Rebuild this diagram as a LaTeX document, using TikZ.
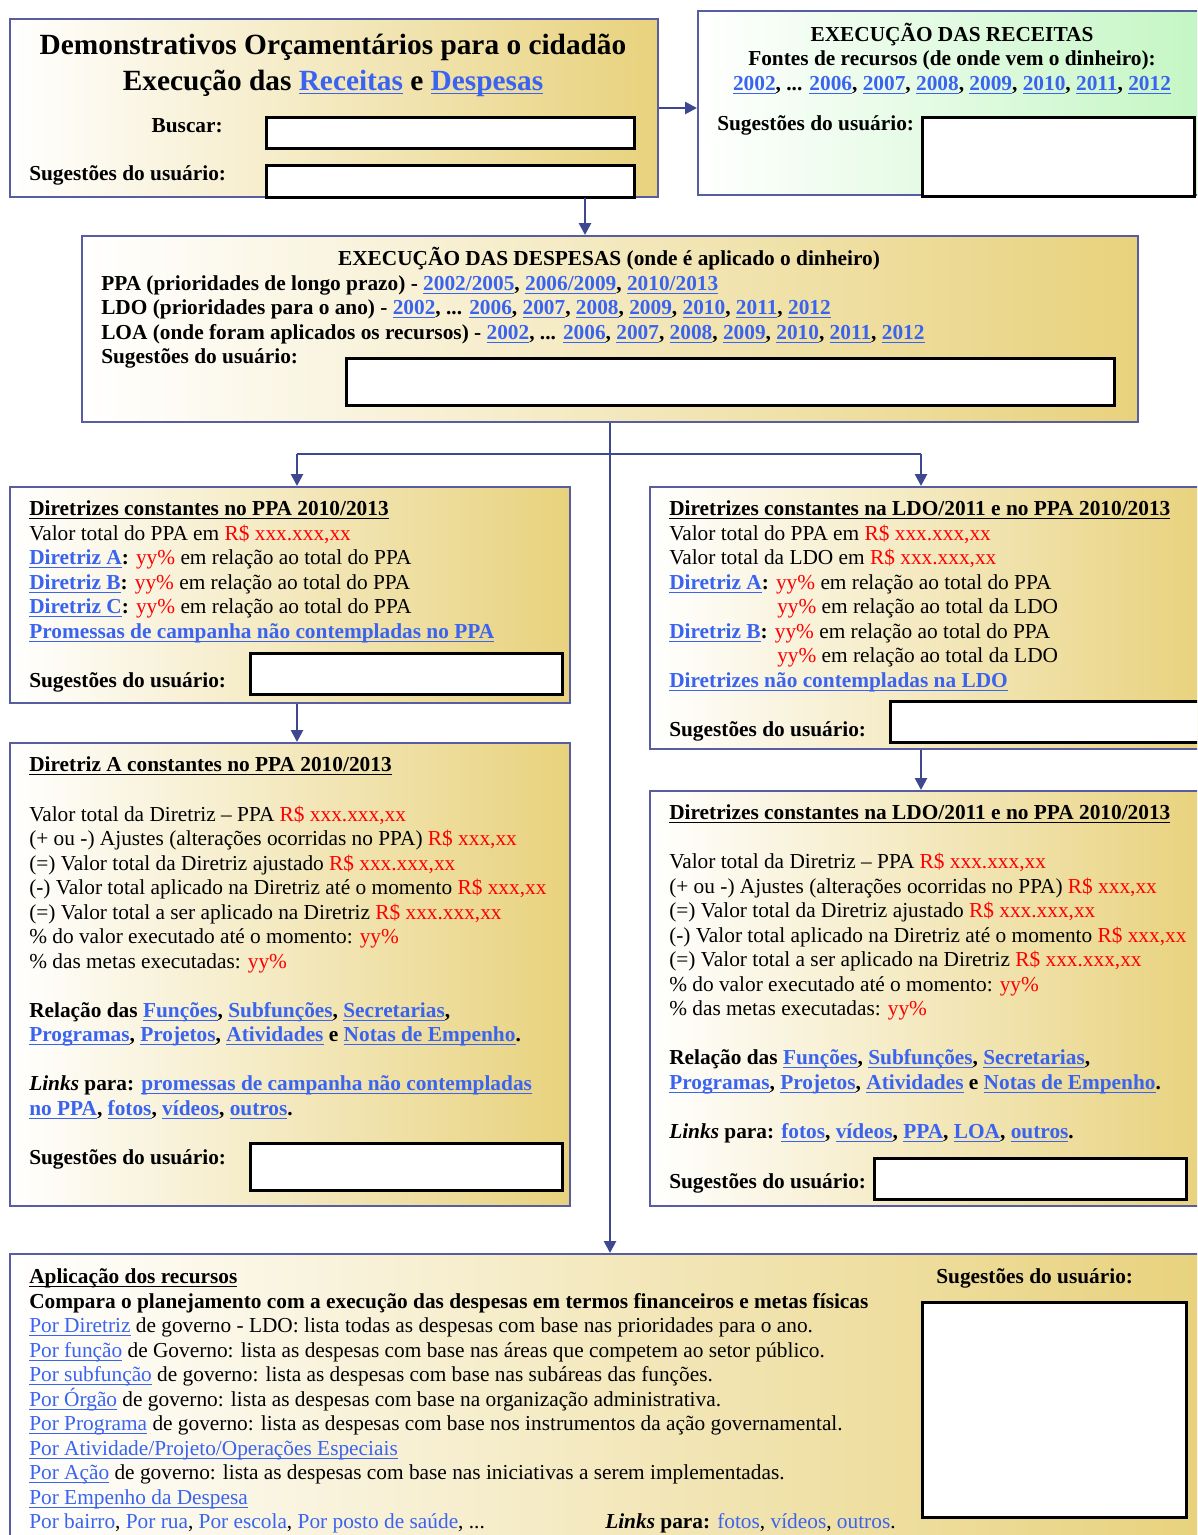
\documentclass[tikz,border=0pt]{standalone}
\usepackage{fontspec}
\setmainfont{Liberation Serif}
\usetikzlibrary{arrows.meta}

\definecolor{framecol}{RGB}{88,92,160}
\definecolor{arrowcol}{RGB}{62,72,145}
\definecolor{goldcol}{RGB}{232,210,125}
\definecolor{greencol}{RGB}{196,246,196}
\definecolor{linkblue}{RGB}{58,100,240}
\definecolor{redval}{RGB}{255,0,0}

% underline at a fixed depth below the baseline, in the current colour
\newlength\ulwd
\newsavebox\ulsave
\newcommand\myul[2][1.3pt]{%
  \sbox\ulsave{#2}\setlength\ulwd{\wd\ulsave}%
  \rlap{\rule[-3.2pt]{\ulwd}{#1}}\usebox\ulsave}

% bold/regular link, underlined
\newcommand\lk[1]{\textcolor{linkblue}{\myul{#1}}}
% link without underline
\newcommand\lkn[1]{\textcolor{linkblue}{#1}}
% regular-weight link with a thin underline
\newcommand\lkt[1]{\textcolor{linkblue}{\myul[0.7pt]{#1}}}
% value placeholders
\newcommand\rd[1]{\textcolor{redval}{#1}}
% underlined heading
\newcommand\hd[1]{\textbf{\myul{#1}}}

\begin{document}
\begin{tikzpicture}[x=0.75pt,y=-0.75pt,
  every node/.style={font=\fontsize{16}{19}\selectfont},
  panel/.style={draw=framecol, line width=1.5pt, left color=white, right color=goldcol,
    anchor=north west, inner sep=0pt},
  greenpanel/.style={panel, right color=greencol},
  field/.style={draw=black, line width=1.9pt, fill=white, anchor=north west, inner sep=0pt},
  txt/.style={anchor=base west, inner sep=0pt},
  ctxt/.style={anchor=base, inner sep=0pt, font=\fontsize{16}{19}\selectfont\bfseries},
  btxt/.style={txt, font=\fontsize{16}{19}\selectfont\bfseries},
  ttl/.style={anchor=base, inner sep=0pt, font=\fontsize{22}{26}\selectfont\bfseries},
  link/.style={draw=arrowcol, line width=2pt},
  arr/.style={link, -{Triangle[length=9pt,width=9pt]}}]

\clip (0,0) rectangle (1197,1535);
\fill[white] (0,0) rectangle (1197,1535);

% ---------- panels ----------
\node[panel, minimum width={648*0.75pt}, minimum height={178*0.75pt}] (b1) at (9,18) {};
\node[greenpanel, minimum width={504*0.75pt}, minimum height={184*0.75pt}] (b2) at (697,10) {};
\node[panel, minimum width={1056*0.75pt}, minimum height={186*0.75pt}] (b3) at (81,235) {};
\node[panel, minimum width={560*0.75pt}, minimum height={216*0.75pt}] (b4) at (9,486) {};
\node[panel, minimum width={554*0.75pt}, minimum height={262*0.75pt}] (b5) at (649,486) {};
\node[panel, minimum width={560*0.75pt}, minimum height={463*0.75pt}] (b6) at (9,742) {};
\node[panel, minimum width={554*0.75pt}, minimum height={415*0.75pt}] (b7) at (649,790) {};
\node[panel, minimum width={1192*0.75pt}, minimum height={290*0.75pt}] (b8) at (9,1253) {};

% ---------- input fields ----------
\node[field, minimum width={368*0.75pt}, minimum height={31*0.75pt}] (f1) at (265,116) {};
\node[field, minimum width={368*0.75pt}, minimum height={32*0.75pt}] (f2) at (265,164) {};
\node[field, minimum width={272*0.75pt}, minimum height={79*0.75pt}] (f3) at (921,116) {};
\node[field, minimum width={768*0.75pt}, minimum height={47*0.75pt}] (f4) at (345,357) {};
\node[field, minimum width={312*0.75pt}, minimum height={41*0.75pt}] (f5) at (249,652) {};
\node[field, minimum width={320*0.75pt}, minimum height={41*0.75pt}] (f6) at (889,700) {};
\node[field, minimum width={312*0.75pt}, minimum height={47*0.75pt}] (f7) at (249,1142) {};
\node[field, minimum width={312*0.75pt}, minimum height={41*0.75pt}] (f8) at (873,1157) {};
\node[field, minimum width={264*0.75pt}, minimum height={215*0.75pt}] (f9) at (921,1301) {};

% ---------- connectors ----------
\coordinate (c13) at (585,0);
\coordinate (jl) at (297,454);
\coordinate (jr) at (921,454);
\coordinate (c46) at (297,0);
\coordinate (c57) at (921,0);
\draw[arr] (b1.east) -- (b1.east -| b2.west);
\draw[arr] (c13 |- b1.south) -- (c13 |- b3.north);
\draw[arr] (b3.south) -- (b8.north -| b3.south);
\draw[link] (jl) -- (jr);
\draw[arr] (jl) -- (jl |- b4.north);
\draw[arr] (jr) -- (jr |- b5.north);
\draw[arr] (c46 |- b4.south) -- (c46 |- b6.north);
\draw[arr] (c57 |- b5.south) -- (c57 |- b7.north);

% ---------- panel 1: title and search ----------
\node[ttl] (t1a) at (333,54) {Demonstrativos Orçamentários para o cidadão};
\node[ttl] (t1b) at (333,90) {Execução das \lk{Receitas} e \lk{Despesas}};
\node[anchor=base east, inner sep=0pt, font=\fontsize{16}{19}\selectfont\bfseries] (t1c) at (223,132) {Buscar:};
\node[btxt] (t1d) at (29,180) {Sugestões do usuário:};

% ---------- panel 2: revenue ----------
\node[ctxt] (t2a) at (952,41) {EXECUÇÃO DAS RECEITAS};
\node[ctxt] (t2b) at (952,65) {Fontes de recursos (de onde vem o dinheiro):};
\node[ctxt] (t2c) at (952,90)
  {\lk{2002}, ... \lk{2006}, \lk{2007}, \lk{2008}, \lk{2009}, \lk{2010}, \lk{2011}, \lk{2012}};
\node[btxt] (t2d) at (717,130) {Sugestões do usuário:};

% ---------- panel 3: expenses ----------
\node[ctxt] (t3a) at (609,265) {EXECUÇÃO DAS DESPESAS (onde é aplicado o dinheiro)};
\node[btxt] (t3b) at (101,290)
  {PPA (prioridades de longo prazo) - \lk{2002/2005}, \lk{2006/2009}, \lk{2010/2013}};
\node[btxt] (t3c) at (101,314)
  {LDO (prioridades para o ano) - \lk{2002}, ... \lk{2006}, \lk{2007}, \lk{2008}, \lk{2009}, \lk{2010}, \lk{2011}, \lk{2012}};
\node[btxt] (t3d) at (101,339)
  {LOA (onde foram aplicados os recursos) - \lk{2002}, ... \lk{2006}, \lk{2007}, \lk{2008}, \lk{2009}, \lk{2010}, \lk{2011}, \lk{2012}};
\node[btxt] (t3e) at (101,363) {Sugestões do usuário:};

% ---------- panel 4: PPA guidelines ----------
\node[txt] (t4a) at (29,515) {\hd{Diretrizes constantes no PPA 2010/2013}};
\node[txt] (t4b) at (29,540) {Valor total do PPA em \rd{R\$ xxx.xxx,xx}};
\node[txt] (t4c) at (29,564) {\textbf{\lk{Diretriz A}:} \rd{yy\%} em relação ao total do PPA};
\node[txt] (t4d) at (29,589) {\textbf{\lk{Diretriz B}:} \rd{yy\%} em relação ao total do PPA};
\node[txt] (t4e) at (29,613) {\textbf{\lk{Diretriz C}:} \rd{yy\%} em relação ao total do PPA};
\node[txt] (t4f) at (29,638) {\textbf{\lk{Promessas de campanha não contempladas no PPA}}};
\node[btxt] (t4g) at (29,687) {Sugestões do usuário:};

% ---------- panel 5: LDO and PPA guidelines ----------
\node[txt] (t5a) at (669,515) {\hd{Diretrizes constantes na LDO/2011 e no PPA 2010/2013}};
\node[txt] (t5b) at (669,540) {Valor total do PPA em \rd{R\$ xxx.xxx,xx}};
\node[txt] (t5c) at (669,564) {Valor total da LDO em \rd{R\$ xxx.xxx,xx}};
\node[txt] (t5d) at (669,589) {\textbf{\lk{Diretriz A}:} \rd{yy\%} em relação ao total do PPA};
\node[txt] (t5e) at (777,613) {\rd{yy\%} em relação ao total da LDO};
\node[txt] (t5f) at (669,638) {\textbf{\lk{Diretriz B}:} \rd{yy\%} em relação ao total do PPA};
\node[txt] (t5g) at (777,662) {\rd{yy\%} em relação ao total da LDO};
\node[txt] (t5h) at (669,687) {\textbf{\lk{Diretrizes não contempladas na LDO}}};
\node[btxt] (t5i) at (669,736) {Sugestões do usuário:};

% ---------- panel 6: guideline A detail ----------
\node[txt] (t6a) at (29,771) {\hd{Diretriz A constantes no PPA 2010/2013}};
\node[txt] (t6b) at (29,821) {Valor total da Diretriz – PPA \rd{R\$ xxx.xxx,xx}};
\node[txt] (t6c) at (29,845) {(+ ou -) Ajustes (alterações ocorridas no PPA) \rd{R\$ xxx,xx}};
\node[txt] (t6d) at (29,870) {(=) Valor total da Diretriz ajustado \rd{R\$ xxx.xxx,xx}};
\node[txt] (t6e) at (29,894) {(-) Valor total aplicado na Diretriz até o momento \rd{R\$ xxx,xx}};
\node[txt] (t6f) at (29,919) {(=) Valor total a ser aplicado na Diretriz \rd{R\$ xxx.xxx,xx}};
\node[txt] (t6g) at (29,943) {\% do valor executado até o momento: \rd{yy\%}};
\node[txt] (t6h) at (29,968) {\% das metas executadas: \rd{yy\%}};
\node[btxt] (t6i) at (29,1017)
  {Relação das \lk{Funções}, \lk{Subfunções}, \lk{Secretarias},};
\node[btxt] (t6j) at (29,1041)
  {\lk{Programas}, \lk{Projetos}, \lk{Atividades} e \lk{Notas de Empenho}.};
\node[btxt] (t6k) at (29,1090)
  {\textit{Links} para: \lk{promessas de campanha não contempladas}};
\node[btxt] (t6l) at (29,1115)
  {\lk{no PPA}, \lk{fotos}, \lk{vídeos}, \lk{outros}.};
\node[btxt] (t6m) at (29,1164) {Sugestões do usuário:};

% ---------- panel 7: LDO guideline detail ----------
\node[txt] (t7a) at (669,819) {\hd{Diretrizes constantes na LDO/2011 e no PPA 2010/2013}};
\node[txt] (t7b) at (669,868) {Valor total da Diretriz – PPA \rd{R\$ xxx.xxx,xx}};
\node[txt] (t7c) at (669,893) {(+ ou -) Ajustes (alterações ocorridas no PPA) \rd{R\$ xxx,xx}};
\node[txt] (t7d) at (669,917) {(=) Valor total da Diretriz ajustado \rd{R\$ xxx.xxx,xx}};
\node[txt] (t7e) at (669,942) {(-) Valor total aplicado na Diretriz até o momento \rd{R\$ xxx,xx}};
\node[txt] (t7f) at (669,966) {(=) Valor total a ser aplicado na Diretriz \rd{R\$ xxx.xxx,xx}};
\node[txt] (t7g) at (669,991) {\% do valor executado até o momento: \rd{yy\%}};
\node[txt] (t7h) at (669,1015) {\% das metas executadas: \rd{yy\%}};
\node[btxt] (t7i) at (669,1064)
  {Relação das \lk{Funções}, \lk{Subfunções}, \lk{Secretarias},};
\node[btxt] (t7j) at (669,1089)
  {\lk{Programas}, \lk{Projetos}, \lk{Atividades} e \lk{Notas de Empenho}.};
\node[btxt] (t7k) at (669,1138)
  {\textit{Links} para: \lk{fotos}, \lk{vídeos}, \lk{PPA}, \lk{LOA}, \lk{outros}.};
\node[btxt] (t7l) at (669,1188) {Sugestões do usuário:};

% ---------- panel 8: application of resources ----------
\node[txt] (t8a) at (29,1283) {\hd{Aplicação dos recursos}};
\node[btxt] (t8b) at (29,1308)
  {Compara o planejamento com a execução das despesas em termos financeiros e metas físicas};
\node[txt] (t8c) at (29,1332) {\lkt{Por Diretriz} de governo - LDO: lista todas as despesas com base nas prioridades para o ano.};
\node[txt] (t8d) at (29,1357) {\lkt{Por função} de Governo: lista as despesas com base nas áreas que competem ao setor público.};
\node[txt] (t8e) at (29,1381) {\lkt{Por subfunção} de governo: lista as despesas com base nas subáreas das funções.};
\node[txt] (t8f) at (29,1406) {\lkt{Por Órgão} de governo: lista as despesas com base na organização administrativa.};
\node[txt] (t8g) at (29,1430) {\lkt{Por Programa} de governo: lista as despesas com base nos instrumentos da ação governamental.};
\node[txt] (t8h) at (29,1455) {\lkt{Por Atividade/Projeto/Operações Especiais}};
\node[txt] (t8i) at (29,1479) {\lkt{Por Ação} de governo: lista as despesas com base nas iniciativas a serem implementadas.};
\node[txt] (t8j) at (29,1504) {\lkt{Por Empenho da Despesa}};
\node[txt] (t8k) at (29,1528) {\lkn{Por bairro}, \lkn{Por rua}, \lkn{Por escola}, \lkn{Por posto de saúde}, ...};
\node[txt] (t8l) at (605,1528) {\textbf{\textit{Links} para:} \lkn{fotos}, \lkn{vídeos}, \lkn{outros}.};
\node[btxt] (t8m) at (936,1283) {Sugestões do usuário:};

\end{tikzpicture}
\end{document}
